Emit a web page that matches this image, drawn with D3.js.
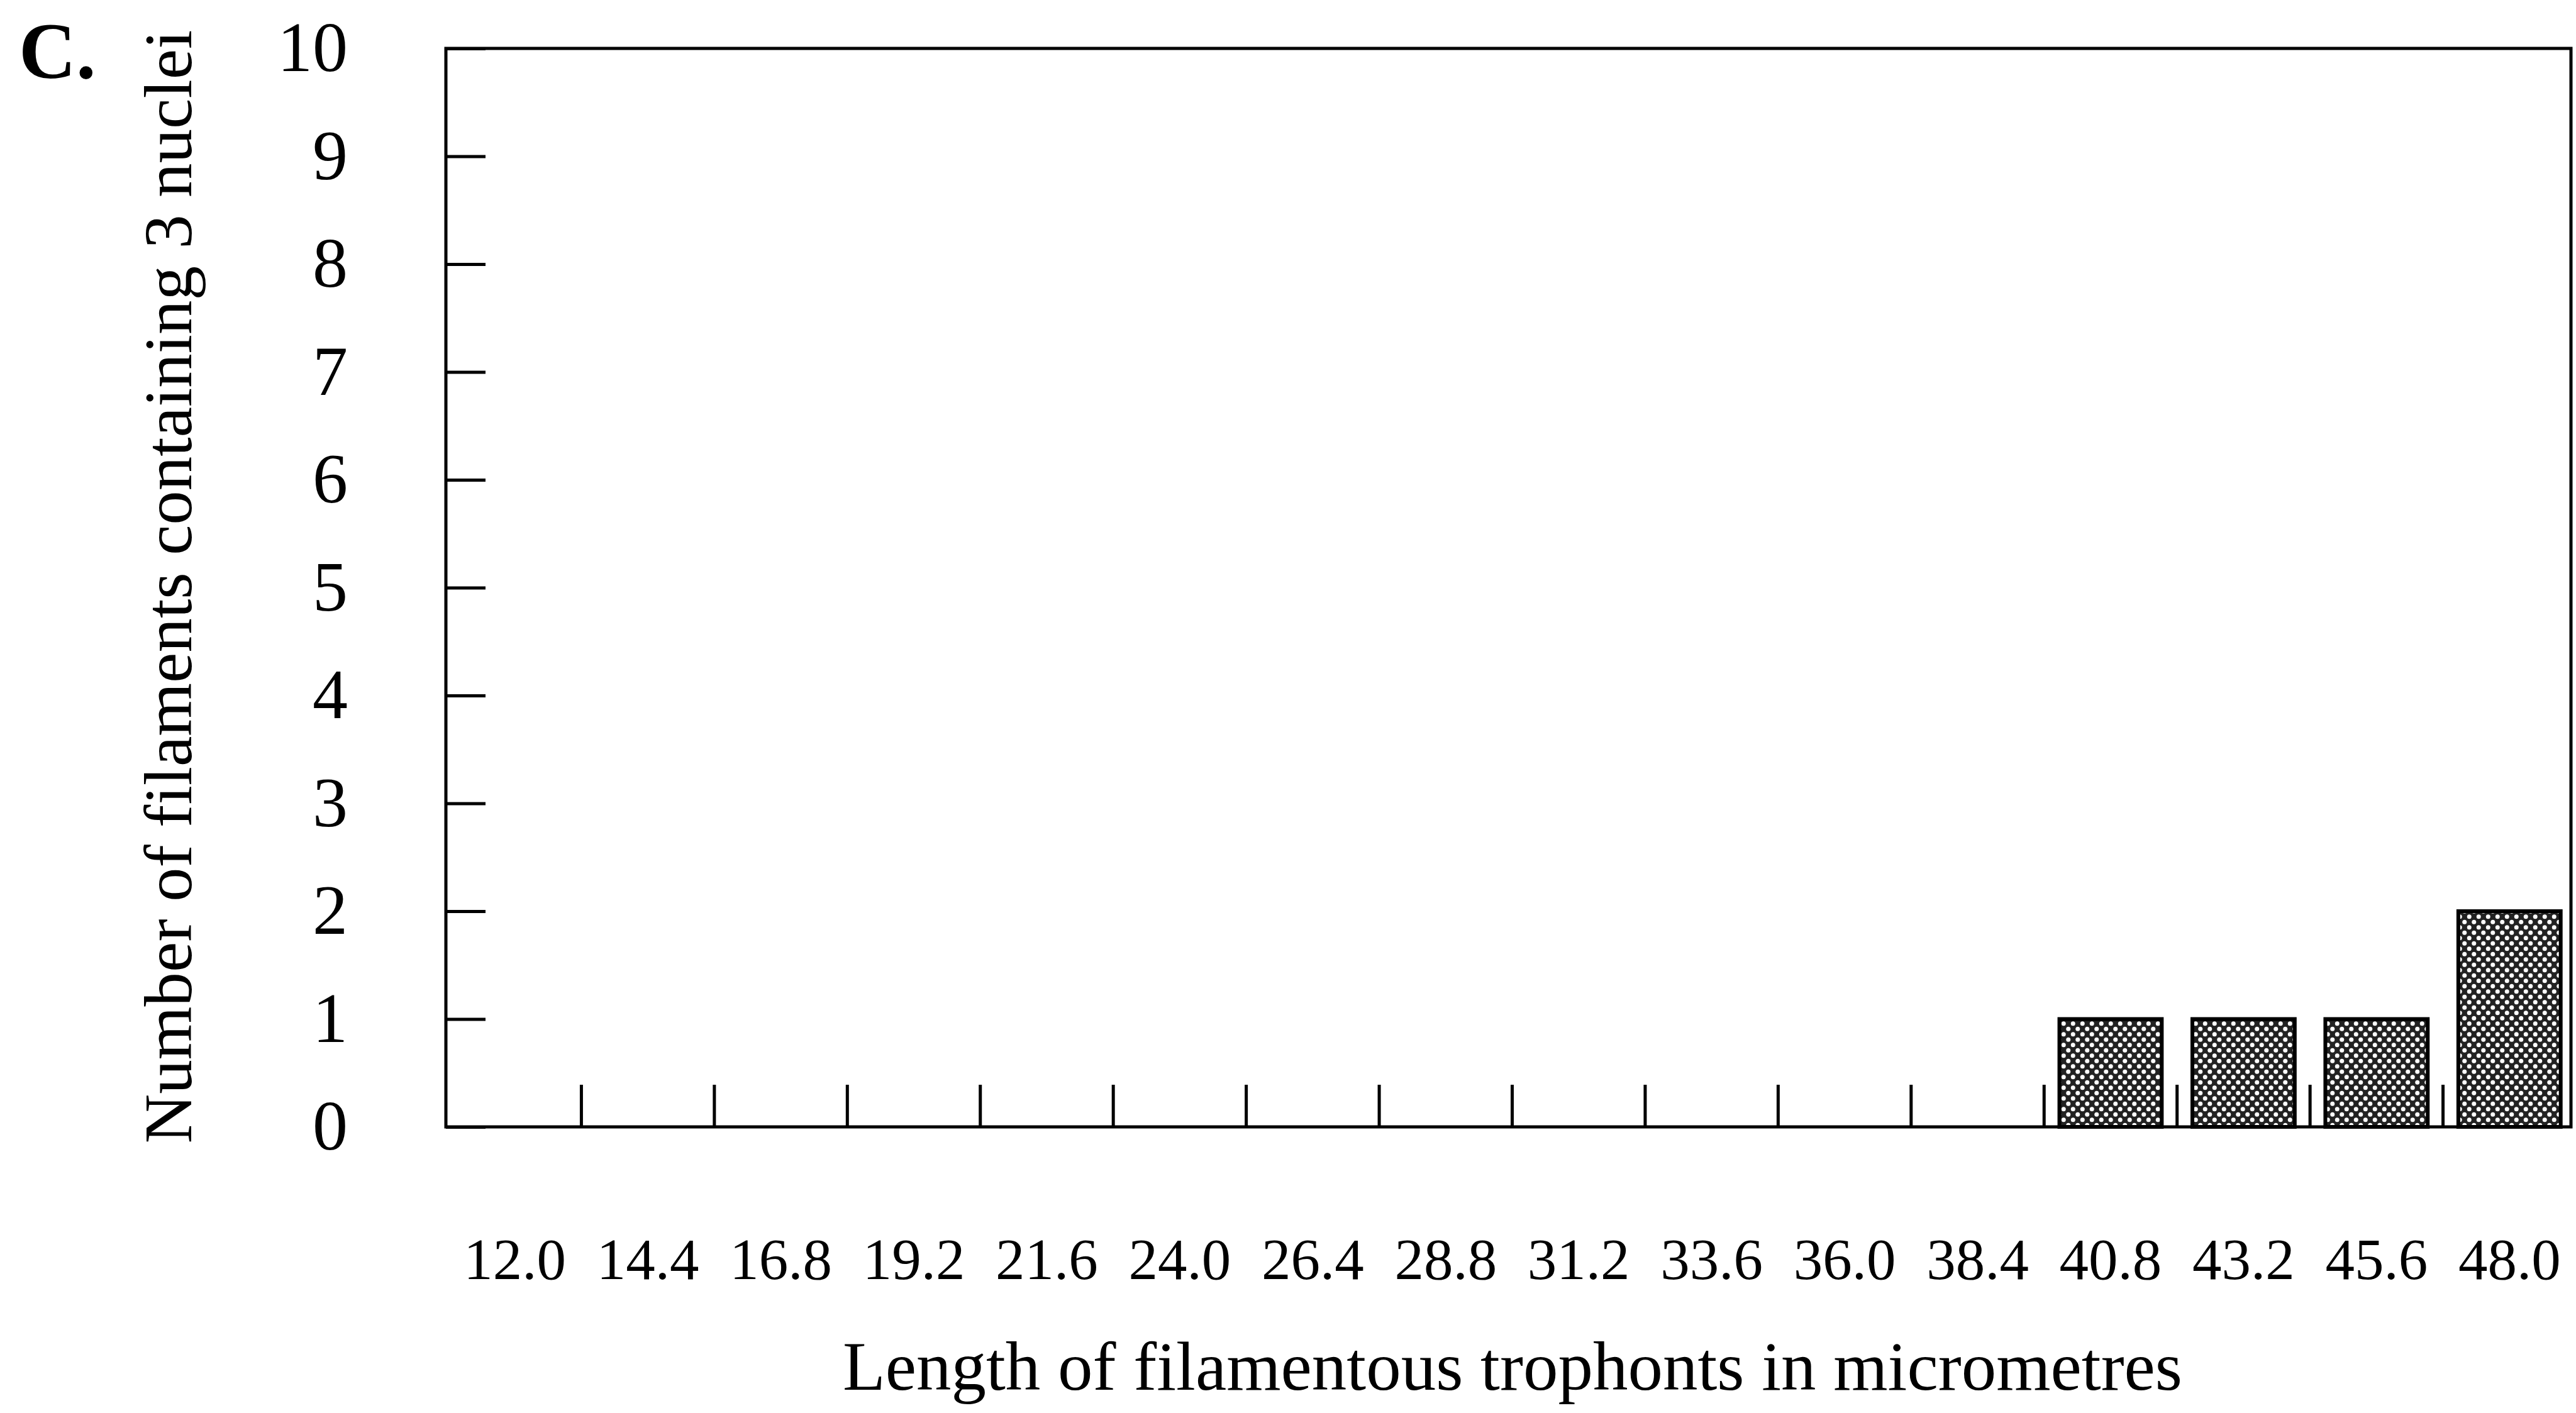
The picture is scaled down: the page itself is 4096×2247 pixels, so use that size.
<!doctype html>
<html lang="en">
	<head>
		<meta charset="UTF-8">
		<title>Filaments containing 3 nuclei</title>
		<style>
			body {
				margin: 0;
				background-color: #ffffff;
			}
			svg text {
				font-family: "Liberation Serif", "Times New Roman", serif;
				fill: #000000;
			}
		</style>
	</head>
	<body>
		<svg class="bar-chart"></svg>

		<script src="https://d3js.org/d3.v7.min.js"></script>
		<script>

			// Data Set
			var lengths = ["12.0", "14.4", "16.8", "19.2", "21.6", "24.0", "26.4", "28.8",
				"31.2", "33.6", "36.0", "38.4", "40.8", "43.2", "45.6", "48.0"];
			var counts = [0, 0, 0, 0, 0, 0, 0, 0, 0, 0, 0, 0, 1, 1, 1, 2];
			var yTicks = [0, 1, 2, 3, 4, 5, 6, 7, 8, 9, 10];

			// Setting up the chart area svg
			var svgWidth = 4096, svgHeight = 2247;
			var plotLeft = 709, plotRight = 4088, plotTop = 77, plotBottom = 1792;

			var svg = d3.select('svg')
				.attr("width", svgWidth)
				.attr("height", svgHeight);

			// dotted fill for the bars
			var pat = svg.append("defs").append("pattern")
				.attr("id", "dots")
				.attr("patternUnits", "userSpaceOnUse")
				.attr("width", 15)
				.attr("height", 17);
			pat.append("rect").attr("width", 15).attr("height", 17).attr("fill", "#222222");
			pat.append("circle").attr("cx", 3.75).attr("cy", 4.25).attr("r", 3.5).attr("fill", "#ffffff");
			pat.append("circle").attr("cx", 11.25).attr("cy", 12.75).attr("r", 3.5).attr("fill", "#ffffff");

			// scales (the printed categories run a touch past the right frame line)
			var xScale = d3.scaleBand()
				.domain(lengths)
				.range([plotLeft + 4, plotRight + 8])
				.paddingInner(0.23)
				.paddingOuter(0.115);

			var yScale = d3.scaleLinear()
				.domain([0, 10])
				.range([plotBottom, plotTop]);

			// y axis, ticks pointing inward
			var yAxis = svg.append("g")
				.attr("transform", "translate(" + plotLeft + ",0)")
				.call(d3.axisLeft(yScale)
					.tickValues(yTicks)
					.tickFormat(d3.format("d"))
					.tickSizeInner(-63)
					.tickSizeOuter(0)
					.tickPadding(156));
			yAxis.select(".domain").remove();
			yAxis.selectAll("line").attr("stroke", "#000").attr("stroke-width", 5);
			yAxis.selectAll("text")
				.attr("font-size", 112)
				.attr("font-family", "Liberation Serif");

			// x axis labels under the bands
			var xAxis = svg.append("g")
				.attr("transform", "translate(0," + plotBottom + ")")
				.call(d3.axisBottom(xScale).tickSize(0).tickPadding(176));
			xAxis.select(".domain").remove();
			xAxis.selectAll("text")
				.attr("font-size", 93)
				.attr("font-family", "Liberation Serif");

			// ticks at the band boundaries
			var gap = xScale.step() * xScale.paddingInner() / 2;
			svg.append("g").selectAll("line")
				.data(lengths.slice(1))
				.enter()
				.append("line")
				.attr("x1", function(d) { return xScale(d) - gap; })
				.attr("x2", function(d) { return xScale(d) - gap; })
				.attr("y1", plotBottom)
				.attr("y2", plotBottom - 67)
				.attr("stroke", "#000")
				.attr("stroke-width", 5);

			// Creating the Bar Chart
			svg.selectAll("rect.bar")
				.data(lengths.map(function(d, i) { return { len: d, n: counts[i] }; })
					.filter(function(d) { return d.n > 0; }))
				.enter()
				.append("rect")
				.attr("class", "bar")
				.attr("x", function(d) { return xScale(d.len); })
				.attr("y", function(d) { return yScale(d.n); })
				.attr("width", xScale.bandwidth())
				.attr("height", function(d) { return plotBottom - yScale(d.n); })
				.attr("fill", "url(#dots)")
				.attr("stroke", "#000")
				.attr("stroke-width", 6);

			// frame
			svg.append("rect")
				.attr("x", plotLeft)
				.attr("y", plotTop)
				.attr("width", plotRight - plotLeft)
				.attr("height", plotBottom - plotTop)
				.attr("fill", "none")
				.attr("stroke", "#000")
				.attr("stroke-width", 5);

			// axis titles
			svg.append("text")
				.attr("x", 2405)
				.attr("y", 2210)
				.attr("text-anchor", "middle")
				.attr("font-size", 111)
				.text("Length of filamentous trophonts in micrometres");

			svg.append("text")
				.attr("transform", "translate(304,933) rotate(-90)")
				.attr("text-anchor", "middle")
				.attr("font-size", 109)
				.text("Number of filaments containing 3 nuclei");

			// panel letter
			svg.append("text")
				.attr("x", 30)
				.attr("y", 124)
				.attr("font-size", 126)
				.attr("font-weight", "bold")
				.text("C.");

		</script>
	</body>
</html>
